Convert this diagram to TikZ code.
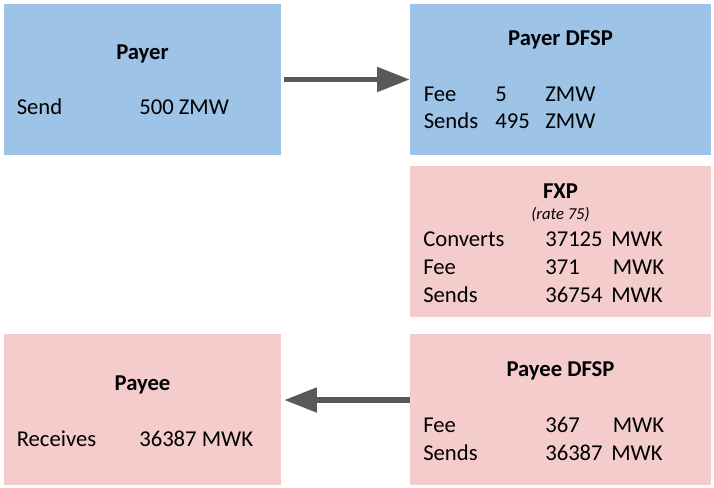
\documentclass[tikz,border=0pt]{standalone}
\usepackage{fontspec}
\setmainfont{Carlito}
\usetikzlibrary{arrows.meta}
\definecolor{payerblue}{HTML}{9DC3E6}
\definecolor{payeepink}{HTML}{F4CCCC}
\definecolor{arrowgrey}{HTML}{595959}

\begin{document}
\begin{tikzpicture}[x=0.75pt, y=-0.75pt,
	box/.style={rectangle, inner sep=0pt, minimum height=113.25pt},
	narrowbox/.style={box, minimum width=207.75pt},
	widebox/.style={box, minimum width=225.75pt},
	heading/.style={anchor=base, inner sep=0pt, font=\fontsize{17}{20}\selectfont\bfseries},
	entry/.style={anchor=base west, inner sep=0pt, font=\fontsize{17}{20}\selectfont},
	note/.style={anchor=base, inner sep=0pt, font=\fontsize{12.5}{15}\selectfont\itshape},
	flow/.style={arrowgrey, line width=3.9pt, -{Triangle[length=24.5pt, width=18pt]}}]
	\useasboundingbox (0,0) rectangle (714,488);
	% boxes
	\node[narrowbox, fill=payerblue] (payer) at (142.5,79.5) {};
	\node[widebox, fill=payerblue] (payerdfsp) at (560.5,79.5) {};
	\node[widebox, fill=payeepink] (fxp) at (560.5,241.5) {};
	\node[widebox, fill=payeepink] (payeedfsp) at (560.5,409.5) {};
	\node[narrowbox, fill=payeepink] (payee) at (142.5,409.5) {};
	% payer
	\node[heading] (payer-t) at (142.5,60) {Payer};
	\node[entry] (payer-k) at (16.5,115) {Send};
	\node[entry] (payer-v) at (139,115) {500 ZMW};
	% payer DFSP
	\node[heading] (payerdfsp-t) at (560.5,46) {Payer DFSP};
	\node[entry] (payerdfsp-k1) at (423.5,102) {Fee};
	\node[entry] (payerdfsp-v1) at (495,102) {5};
	\node[entry] (payerdfsp-c1) at (545,102) {ZMW};
	\node[entry] (payerdfsp-k2) at (423.5,129) {Sends};
	\node[entry] (payerdfsp-v2) at (495,129) {495};
	\node[entry] (payerdfsp-c2) at (545,129) {ZMW};
	% FXP
	\node[heading] (fxp-t) at (560.5,199) {FXP};
	\node[note] (fxp-n) at (560.5,220) {(rate 75)};
	\node[entry] (fxp-k1) at (423,247) {Converts};
	\node[entry] (fxp-v1) at (545,247) {37125};
	\node[entry] (fxp-c1) at (611,247) {MWK};
	\node[entry] (fxp-k2) at (423,275) {Fee};
	\node[entry] (fxp-v2) at (545,275) {371};
	\node[entry] (fxp-c2) at (612.5,275) {MWK};
	\node[entry] (fxp-k3) at (423,303) {Sends};
	\node[entry] (fxp-v3) at (545,303) {36754};
	\node[entry] (fxp-c3) at (611,303) {MWK};
	% payee DFSP
	\node[heading] (payeedfsp-t) at (560.5,376) {Payee DFSP};
	\node[entry] (payeedfsp-k1) at (423,432) {Fee};
	\node[entry] (payeedfsp-v1) at (545,432) {367};
	\node[entry] (payeedfsp-c1) at (612.5,432) {MWK};
	\node[entry] (payeedfsp-k2) at (423,460) {Sends};
	\node[entry] (payeedfsp-v2) at (545,460) {36387};
	\node[entry] (payeedfsp-c2) at (611,460) {MWK};
	% payee
	\node[heading] (payee-t) at (142.5,390) {Payee};
	\node[entry] (payee-k) at (16.5,446) {Receives};
	\node[entry] (payee-v) at (139,446) {36387 MWK};
	% arrows
	\draw[flow] ([xshift=2.25pt]payer.east) -- (payerdfsp.west);
	\draw[flow] ([yshift=7.1pt]payeedfsp.west) -- ([xshift=2.25pt,yshift=7.1pt]payee.east);
\end{tikzpicture}
\end{document}
